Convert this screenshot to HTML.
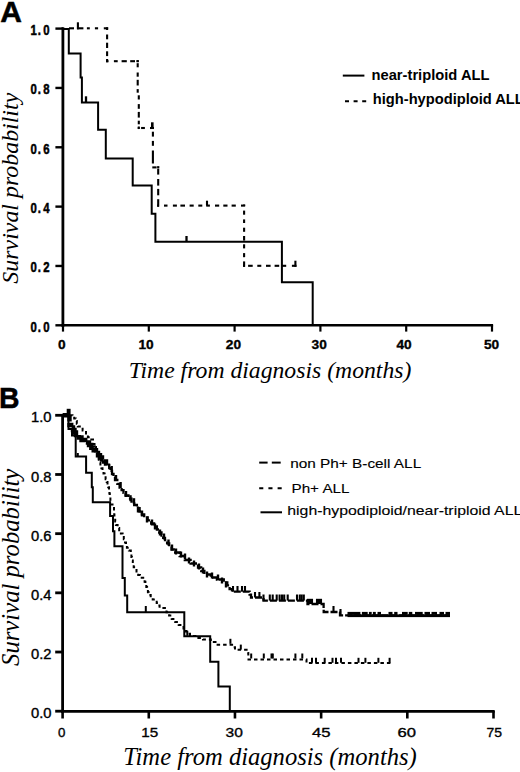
<!DOCTYPE html>
<html><head><meta charset="utf-8"><style>
html,body{margin:0;padding:0;background:#fff;}
svg{display:block;}
</style></head><body>
<svg width="520" height="772" viewBox="0 0 520 772">
<rect width="520" height="772" fill="#fff"/>
<text x="0.3" y="21.6" font-family="'Liberation Sans', sans-serif" font-size="30" font-weight="bold" font-style="normal" text-anchor="start" stroke="#000" stroke-width="0.5">A</text>
<line x1="62.9" y1="27.3" x2="62.9" y2="326.7" stroke="#000" stroke-width="2.8" stroke-linecap="butt"/>
<line x1="61.6" y1="325.3" x2="493.1" y2="325.3" stroke="#000" stroke-width="2.6" stroke-linecap="butt"/>
<line x1="55.4" y1="325.3" x2="63" y2="325.3" stroke="#000" stroke-width="2.4" stroke-linecap="butt"/>
<text x="0" y="0" font-family="'Liberation Sans', sans-serif" font-size="14.2" font-weight="bold" font-style="normal" text-anchor="middle" stroke="#000" stroke-width="0.5" transform="translate(33.6,331.7) scale(0.8,1)">0</text>
<text x="0" y="0" font-family="'Liberation Sans', sans-serif" font-size="14.2" font-weight="bold" font-style="normal" text-anchor="middle" stroke="#000" stroke-width="0.5" transform="translate(39.4,331.7) scale(0.8,1)">.</text>
<text x="0" y="0" font-family="'Liberation Sans', sans-serif" font-size="14.2" font-weight="bold" font-style="normal" text-anchor="middle" stroke="#000" stroke-width="0.5" transform="translate(46.3,331.7) scale(0.8,1)">0</text>
<line x1="55.4" y1="265.96" x2="63" y2="265.96" stroke="#000" stroke-width="2.4" stroke-linecap="butt"/>
<text x="0" y="0" font-family="'Liberation Sans', sans-serif" font-size="14.2" font-weight="bold" font-style="normal" text-anchor="middle" stroke="#000" stroke-width="0.5" transform="translate(33.6,272.4) scale(0.8,1)">0</text>
<text x="0" y="0" font-family="'Liberation Sans', sans-serif" font-size="14.2" font-weight="bold" font-style="normal" text-anchor="middle" stroke="#000" stroke-width="0.5" transform="translate(39.4,272.4) scale(0.8,1)">.</text>
<text x="0" y="0" font-family="'Liberation Sans', sans-serif" font-size="14.2" font-weight="bold" font-style="normal" text-anchor="middle" stroke="#000" stroke-width="0.5" transform="translate(46.3,272.4) scale(0.8,1)">2</text>
<line x1="55.4" y1="206.62" x2="63" y2="206.62" stroke="#000" stroke-width="2.4" stroke-linecap="butt"/>
<text x="0" y="0" font-family="'Liberation Sans', sans-serif" font-size="14.2" font-weight="bold" font-style="normal" text-anchor="middle" stroke="#000" stroke-width="0.5" transform="translate(33.6,213.0) scale(0.8,1)">0</text>
<text x="0" y="0" font-family="'Liberation Sans', sans-serif" font-size="14.2" font-weight="bold" font-style="normal" text-anchor="middle" stroke="#000" stroke-width="0.5" transform="translate(39.4,213.0) scale(0.8,1)">.</text>
<text x="0" y="0" font-family="'Liberation Sans', sans-serif" font-size="14.2" font-weight="bold" font-style="normal" text-anchor="middle" stroke="#000" stroke-width="0.5" transform="translate(46.3,213.0) scale(0.8,1)">4</text>
<line x1="55.4" y1="147.28" x2="63" y2="147.28" stroke="#000" stroke-width="2.4" stroke-linecap="butt"/>
<text x="0" y="0" font-family="'Liberation Sans', sans-serif" font-size="14.2" font-weight="bold" font-style="normal" text-anchor="middle" stroke="#000" stroke-width="0.5" transform="translate(33.6,153.7) scale(0.8,1)">0</text>
<text x="0" y="0" font-family="'Liberation Sans', sans-serif" font-size="14.2" font-weight="bold" font-style="normal" text-anchor="middle" stroke="#000" stroke-width="0.5" transform="translate(39.4,153.7) scale(0.8,1)">.</text>
<text x="0" y="0" font-family="'Liberation Sans', sans-serif" font-size="14.2" font-weight="bold" font-style="normal" text-anchor="middle" stroke="#000" stroke-width="0.5" transform="translate(46.3,153.7) scale(0.8,1)">6</text>
<line x1="55.4" y1="87.94" x2="63" y2="87.94" stroke="#000" stroke-width="2.4" stroke-linecap="butt"/>
<text x="0" y="0" font-family="'Liberation Sans', sans-serif" font-size="14.2" font-weight="bold" font-style="normal" text-anchor="middle" stroke="#000" stroke-width="0.5" transform="translate(33.6,94.3) scale(0.8,1)">0</text>
<text x="0" y="0" font-family="'Liberation Sans', sans-serif" font-size="14.2" font-weight="bold" font-style="normal" text-anchor="middle" stroke="#000" stroke-width="0.5" transform="translate(39.4,94.3) scale(0.8,1)">.</text>
<text x="0" y="0" font-family="'Liberation Sans', sans-serif" font-size="14.2" font-weight="bold" font-style="normal" text-anchor="middle" stroke="#000" stroke-width="0.5" transform="translate(46.3,94.3) scale(0.8,1)">8</text>
<line x1="55.4" y1="28.6" x2="63" y2="28.6" stroke="#000" stroke-width="2.4" stroke-linecap="butt"/>
<text x="0" y="0" font-family="'Liberation Sans', sans-serif" font-size="14.2" font-weight="bold" font-style="normal" text-anchor="middle" stroke="#000" stroke-width="0.5" transform="translate(33.6,35.0) scale(0.8,1)">1</text>
<text x="0" y="0" font-family="'Liberation Sans', sans-serif" font-size="14.2" font-weight="bold" font-style="normal" text-anchor="middle" stroke="#000" stroke-width="0.5" transform="translate(39.4,35.0) scale(0.8,1)">.</text>
<text x="0" y="0" font-family="'Liberation Sans', sans-serif" font-size="14.2" font-weight="bold" font-style="normal" text-anchor="middle" stroke="#000" stroke-width="0.5" transform="translate(46.3,35.0) scale(0.8,1)">0</text>
<line x1="63" y1="325" x2="63" y2="331.6" stroke="#000" stroke-width="2.2" stroke-linecap="butt"/>
<text x="61.8" y="349.4" font-family="'Liberation Sans', sans-serif" font-size="13.7" font-weight="bold" font-style="normal" text-anchor="middle" stroke="#000" stroke-width="0.35">0</text>
<line x1="148.8" y1="325" x2="148.8" y2="331.6" stroke="#000" stroke-width="2.2" stroke-linecap="butt"/>
<text x="146.10000000000002" y="349.4" font-family="'Liberation Sans', sans-serif" font-size="13.7" font-weight="bold" font-style="normal" text-anchor="middle" stroke="#000" stroke-width="0.35">10</text>
<line x1="234.6" y1="325" x2="234.6" y2="331.6" stroke="#000" stroke-width="2.2" stroke-linecap="butt"/>
<text x="233.4" y="349.4" font-family="'Liberation Sans', sans-serif" font-size="13.7" font-weight="bold" font-style="normal" text-anchor="middle" stroke="#000" stroke-width="0.35">20</text>
<line x1="320.4" y1="325" x2="320.4" y2="331.6" stroke="#000" stroke-width="2.2" stroke-linecap="butt"/>
<text x="319.2" y="349.4" font-family="'Liberation Sans', sans-serif" font-size="13.7" font-weight="bold" font-style="normal" text-anchor="middle" stroke="#000" stroke-width="0.35">30</text>
<line x1="406.2" y1="325" x2="406.2" y2="331.6" stroke="#000" stroke-width="2.2" stroke-linecap="butt"/>
<text x="404.0" y="349.4" font-family="'Liberation Sans', sans-serif" font-size="13.7" font-weight="bold" font-style="normal" text-anchor="middle" stroke="#000" stroke-width="0.35">40</text>
<line x1="492" y1="325" x2="492" y2="331.6" stroke="#000" stroke-width="2.2" stroke-linecap="butt"/>
<text x="491.5" y="349.4" font-family="'Liberation Sans', sans-serif" font-size="13.7" font-weight="bold" font-style="normal" text-anchor="middle" stroke="#000" stroke-width="0.35">50</text>
<text x="270" y="378.2" font-family="'Liberation Serif', serif" font-size="23.7" font-weight="normal" font-style="italic" text-anchor="middle" >Time from diagnosis (months)</text>
<text x="0" y="0" font-family="'Liberation Serif', serif" font-size="23.9" font-weight="normal" font-style="italic" text-anchor="middle" transform="translate(17.5,188.2) rotate(-90)">Survival probability</text>
<line x1="342.8" y1="75.6" x2="364.4" y2="75.6" stroke="#000" stroke-width="2" stroke-linecap="butt"/>
<text x="371.5" y="79.7" font-family="'Liberation Sans', sans-serif" font-size="14.1" font-weight="bold" font-style="normal" text-anchor="start" textLength="118" lengthAdjust="spacingAndGlyphs">near-triploid ALL</text>
<path d="M345,101.2 H366.2" fill="none" stroke="#000" stroke-width="2" stroke-linejoin="miter" stroke-linecap="butt" stroke-dasharray="4 4.6" stroke-dashoffset="0"/>
<text x="372.8" y="104.0" font-family="'Liberation Sans', sans-serif" font-size="14.1" font-weight="bold" font-style="normal" text-anchor="start" textLength="151" lengthAdjust="spacingAndGlyphs">high-hypodiploid ALL</text>
<path d="M63,29 H68.8 V53.5 H80.6 V77.5 H81.9 V102.5 H98.1 V129.8 H105.8 V158.5 H132.7 V185.4 H151.7 V213.7 H155.4 V241.7 H281.9 V282.3 H312.7 V325" fill="none" stroke="#000" stroke-width="2" stroke-linejoin="miter" stroke-linecap="butt"/>
<line x1="86" y1="96.3" x2="86" y2="102.5" stroke="#000" stroke-width="2.3" stroke-linecap="butt"/>
<line x1="186.5" y1="236" x2="186.5" y2="241.5" stroke="#000" stroke-width="2.3" stroke-linecap="butt"/>
<line x1="69" y1="28.3" x2="74" y2="28.3" stroke="#000" stroke-width="2.1" stroke-linecap="butt"/>
<line x1="77" y1="28.3" x2="83.4" y2="28.3" stroke="#000" stroke-width="2.1" stroke-linecap="butt"/>
<line x1="86.9" y1="28.3" x2="89.8" y2="28.3" stroke="#000" stroke-width="2.1" stroke-linecap="butt"/>
<line x1="94.9" y1="28.3" x2="98.1" y2="28.3" stroke="#000" stroke-width="2.1" stroke-linecap="butt"/>
<line x1="103.8" y1="28.3" x2="108.15" y2="28.3" stroke="#000" stroke-width="2.1" stroke-linecap="butt"/>
<line x1="77.9" y1="22.3" x2="77.9" y2="29.3" stroke="#000" stroke-width="2.1" stroke-linecap="butt"/>
<line x1="107.1" y1="27.25" x2="107.1" y2="30" stroke="#000" stroke-width="2.1" stroke-linecap="butt"/>
<line x1="107.1" y1="34.5" x2="107.1" y2="39.3" stroke="#000" stroke-width="2.1" stroke-linecap="butt"/>
<line x1="107.1" y1="42.7" x2="107.1" y2="48" stroke="#000" stroke-width="2.1" stroke-linecap="butt"/>
<line x1="107.1" y1="51.3" x2="107.1" y2="56.1" stroke="#000" stroke-width="2.1" stroke-linecap="butt"/>
<line x1="107.1" y1="59" x2="107.1" y2="62.25" stroke="#000" stroke-width="2.1" stroke-linecap="butt"/>
<line x1="106.05" y1="61.2" x2="108.5" y2="61.2" stroke="#000" stroke-width="2.1" stroke-linecap="butt"/>
<line x1="113.9" y1="61.2" x2="117.7" y2="61.2" stroke="#000" stroke-width="2.1" stroke-linecap="butt"/>
<line x1="121.6" y1="61.2" x2="126.8" y2="61.2" stroke="#000" stroke-width="2.1" stroke-linecap="butt"/>
<line x1="130.2" y1="61.2" x2="135" y2="61.2" stroke="#000" stroke-width="2.1" stroke-linecap="butt"/>
<line x1="136.5" y1="61.2" x2="138.75" y2="61.2" stroke="#000" stroke-width="2.1" stroke-linecap="butt"/>
<line x1="137.7" y1="60.15" x2="137.7" y2="62" stroke="#000" stroke-width="2.1" stroke-linecap="butt"/>
<line x1="137.7" y1="63.2" x2="137.7" y2="67.3" stroke="#000" stroke-width="2.1" stroke-linecap="butt"/>
<line x1="137.7" y1="72.5" x2="137.7" y2="76.7" stroke="#000" stroke-width="2.1" stroke-linecap="butt"/>
<line x1="137.7" y1="79.8" x2="137.7" y2="85.5" stroke="#000" stroke-width="2.1" stroke-linecap="butt"/>
<line x1="137.7" y1="89.1" x2="137.7" y2="92.7" stroke="#000" stroke-width="2.1" stroke-linecap="butt"/>
<line x1="138.8" y1="95.3" x2="138.8" y2="99.5" stroke="#000" stroke-width="2.1" stroke-linecap="butt"/>
<line x1="138.8" y1="104.1" x2="138.8" y2="108.8" stroke="#000" stroke-width="2.1" stroke-linecap="butt"/>
<line x1="138.8" y1="111.9" x2="138.8" y2="117.6" stroke="#000" stroke-width="2.1" stroke-linecap="butt"/>
<line x1="138.8" y1="120.7" x2="138.8" y2="124.3" stroke="#000" stroke-width="2.1" stroke-linecap="butt"/>
<line x1="138.8" y1="126.5" x2="138.8" y2="129" stroke="#000" stroke-width="2.1" stroke-linecap="butt"/>
<line x1="137.75" y1="128" x2="139.5" y2="128" stroke="#000" stroke-width="2.1" stroke-linecap="butt"/>
<line x1="141.1" y1="128" x2="144.9" y2="128" stroke="#000" stroke-width="2.1" stroke-linecap="butt"/>
<line x1="150" y1="128" x2="153.95" y2="128" stroke="#000" stroke-width="2.1" stroke-linecap="butt"/>
<rect x="151" y="122.3" width="2.6" height="6" fill="#000"/>
<line x1="152.9" y1="127" x2="152.9" y2="129" stroke="#000" stroke-width="2.1" stroke-linecap="butt"/>
<line x1="152.9" y1="131.7" x2="152.9" y2="136.6" stroke="#000" stroke-width="2.1" stroke-linecap="butt"/>
<line x1="152.9" y1="140.9" x2="152.9" y2="145.8" stroke="#000" stroke-width="2.1" stroke-linecap="butt"/>
<line x1="152.9" y1="150.5" x2="152.9" y2="163.5" stroke="#000" stroke-width="2.1" stroke-linecap="butt"/>
<line x1="152.3" y1="167.4" x2="156.6" y2="167.4" stroke="#000" stroke-width="2.1" stroke-linecap="butt"/>
<line x1="157.2" y1="167.4" x2="159.25" y2="167.4" stroke="#000" stroke-width="2.1" stroke-linecap="butt"/>
<line x1="158.2" y1="166.35" x2="158.2" y2="167.5" stroke="#000" stroke-width="2.1" stroke-linecap="butt"/>
<line x1="158.2" y1="168.8" x2="158.2" y2="174.6" stroke="#000" stroke-width="2.1" stroke-linecap="butt"/>
<line x1="158.2" y1="179" x2="158.2" y2="185.6" stroke="#000" stroke-width="2.1" stroke-linecap="butt"/>
<line x1="158.2" y1="188.9" x2="158.2" y2="195.3" stroke="#000" stroke-width="2.1" stroke-linecap="butt"/>
<line x1="158.2" y1="199.2" x2="158.2" y2="206.65" stroke="#000" stroke-width="2.1" stroke-linecap="butt"/>
<line x1="157.15" y1="205.6" x2="159" y2="205.6" stroke="#000" stroke-width="2.1" stroke-linecap="butt"/>
<line x1="164" y1="205.6" x2="167.5" y2="205.6" stroke="#000" stroke-width="2.1" stroke-linecap="butt"/>
<line x1="172.9" y1="205.6" x2="176.9" y2="205.6" stroke="#000" stroke-width="2.1" stroke-linecap="butt"/>
<line x1="180.4" y1="205.6" x2="185" y2="205.6" stroke="#000" stroke-width="2.1" stroke-linecap="butt"/>
<line x1="189.6" y1="205.6" x2="193.7" y2="205.6" stroke="#000" stroke-width="2.1" stroke-linecap="butt"/>
<line x1="198.3" y1="205.6" x2="202.3" y2="205.6" stroke="#000" stroke-width="2.1" stroke-linecap="butt"/>
<line x1="206.2" y1="205.6" x2="209.9" y2="205.6" stroke="#000" stroke-width="2.1" stroke-linecap="butt"/>
<line x1="215" y1="205.6" x2="219.2" y2="205.6" stroke="#000" stroke-width="2.1" stroke-linecap="butt"/>
<line x1="223.3" y1="205.6" x2="227.5" y2="205.6" stroke="#000" stroke-width="2.1" stroke-linecap="butt"/>
<line x1="231.6" y1="205.6" x2="235.8" y2="205.6" stroke="#000" stroke-width="2.1" stroke-linecap="butt"/>
<line x1="241" y1="205.6" x2="245.15" y2="205.6" stroke="#000" stroke-width="2.1" stroke-linecap="butt"/>
<line x1="207" y1="200.7" x2="207" y2="205.6" stroke="#000" stroke-width="2.1" stroke-linecap="butt"/>
<line x1="244.1" y1="204.55" x2="244.1" y2="206" stroke="#000" stroke-width="2.1" stroke-linecap="butt"/>
<line x1="244.1" y1="210.6" x2="244.1" y2="214.7" stroke="#000" stroke-width="2.1" stroke-linecap="butt"/>
<line x1="244.1" y1="219.4" x2="244.1" y2="223" stroke="#000" stroke-width="2.1" stroke-linecap="butt"/>
<line x1="244.1" y1="227.7" x2="244.1" y2="231.8" stroke="#000" stroke-width="2.1" stroke-linecap="butt"/>
<line x1="244.1" y1="236" x2="244.1" y2="240.6" stroke="#000" stroke-width="2.1" stroke-linecap="butt"/>
<line x1="244.1" y1="244.3" x2="244.1" y2="248.4" stroke="#000" stroke-width="2.1" stroke-linecap="butt"/>
<line x1="244.1" y1="253.1" x2="244.1" y2="257.2" stroke="#000" stroke-width="2.1" stroke-linecap="butt"/>
<line x1="244.1" y1="261.4" x2="244.1" y2="266.85" stroke="#000" stroke-width="2.1" stroke-linecap="butt"/>
<line x1="243.05" y1="265.8" x2="245" y2="265.8" stroke="#000" stroke-width="2.1" stroke-linecap="butt"/>
<line x1="248.1" y1="265.8" x2="252.7" y2="265.8" stroke="#000" stroke-width="2.1" stroke-linecap="butt"/>
<line x1="257.3" y1="265.8" x2="261.3" y2="265.8" stroke="#000" stroke-width="2.1" stroke-linecap="butt"/>
<line x1="266" y1="265.8" x2="270.6" y2="265.8" stroke="#000" stroke-width="2.1" stroke-linecap="butt"/>
<line x1="274.6" y1="265.8" x2="279.2" y2="265.8" stroke="#000" stroke-width="2.1" stroke-linecap="butt"/>
<line x1="282.1" y1="265.8" x2="286.2" y2="265.8" stroke="#000" stroke-width="2.1" stroke-linecap="butt"/>
<line x1="291.9" y1="265.8" x2="296.5" y2="265.8" stroke="#000" stroke-width="2.1" stroke-linecap="butt"/>
<line x1="295.4" y1="260.7" x2="295.4" y2="266.85" stroke="#000" stroke-width="2.1" stroke-linecap="butt"/>
<text x="-0.9" y="407.8" font-family="'Liberation Sans', sans-serif" font-size="30" font-weight="bold" font-style="normal" text-anchor="start" stroke="#000" stroke-width="0.5" textLength="20.5" lengthAdjust="spacingAndGlyphs">B</text>
<line x1="62.6" y1="414" x2="62.6" y2="712.5" stroke="#000" stroke-width="2.8" stroke-linecap="butt"/>
<line x1="61.2" y1="711.3" x2="494.7" y2="711.3" stroke="#000" stroke-width="2.8" stroke-linecap="butt"/>
<line x1="55.2" y1="711.2" x2="62.6" y2="711.2" stroke="#000" stroke-width="2.8" stroke-linecap="butt"/>
<text x="51.5" y="718.3000000000001" font-family="'Liberation Sans', sans-serif" font-size="13.8" font-weight="normal" font-style="normal" text-anchor="end" stroke="#000" stroke-width="0.35" textLength="20.5" lengthAdjust="spacingAndGlyphs">0.0</text>
<line x1="55.2" y1="652.02" x2="62.6" y2="652.02" stroke="#000" stroke-width="2.8" stroke-linecap="butt"/>
<text x="51.5" y="659.1200000000001" font-family="'Liberation Sans', sans-serif" font-size="13.8" font-weight="normal" font-style="normal" text-anchor="end" stroke="#000" stroke-width="0.35" textLength="20.5" lengthAdjust="spacingAndGlyphs">0.2</text>
<line x1="55.2" y1="592.84" x2="62.6" y2="592.84" stroke="#000" stroke-width="2.8" stroke-linecap="butt"/>
<text x="51.5" y="599.94" font-family="'Liberation Sans', sans-serif" font-size="13.8" font-weight="normal" font-style="normal" text-anchor="end" stroke="#000" stroke-width="0.35" textLength="20.5" lengthAdjust="spacingAndGlyphs">0.4</text>
<line x1="55.2" y1="533.66" x2="62.6" y2="533.66" stroke="#000" stroke-width="2.8" stroke-linecap="butt"/>
<text x="51.5" y="540.7600000000001" font-family="'Liberation Sans', sans-serif" font-size="13.8" font-weight="normal" font-style="normal" text-anchor="end" stroke="#000" stroke-width="0.35" textLength="20.5" lengthAdjust="spacingAndGlyphs">0.6</text>
<line x1="55.2" y1="474.48" x2="62.6" y2="474.48" stroke="#000" stroke-width="2.8" stroke-linecap="butt"/>
<text x="51.5" y="481.58000000000004" font-family="'Liberation Sans', sans-serif" font-size="13.8" font-weight="normal" font-style="normal" text-anchor="end" stroke="#000" stroke-width="0.35" textLength="20.5" lengthAdjust="spacingAndGlyphs">0.8</text>
<line x1="55.2" y1="415.3" x2="62.6" y2="415.3" stroke="#000" stroke-width="2.8" stroke-linecap="butt"/>
<text x="51.5" y="422.4000000000001" font-family="'Liberation Sans', sans-serif" font-size="13.8" font-weight="normal" font-style="normal" text-anchor="end" stroke="#000" stroke-width="0.35" textLength="20.5" lengthAdjust="spacingAndGlyphs">1.0</text>
<line x1="62.6" y1="711" x2="62.6" y2="718.5" stroke="#000" stroke-width="2.6" stroke-linecap="butt"/>
<text x="61.75" y="736.6" font-family="'Liberation Sans', sans-serif" font-size="13.3" font-weight="normal" font-style="normal" text-anchor="middle" stroke="#000" stroke-width="0.35">0</text>
<line x1="148.78" y1="711" x2="148.78" y2="718.5" stroke="#000" stroke-width="2.6" stroke-linecap="butt"/>
<text x="149.75" y="736.6" font-family="'Liberation Sans', sans-serif" font-size="13.3" font-weight="normal" font-style="normal" text-anchor="middle" stroke="#000" stroke-width="0.35" textLength="16.9" lengthAdjust="spacingAndGlyphs">15</text>
<line x1="234.96" y1="711" x2="234.96" y2="718.5" stroke="#000" stroke-width="2.6" stroke-linecap="butt"/>
<text x="234.25" y="736.6" font-family="'Liberation Sans', sans-serif" font-size="13.3" font-weight="normal" font-style="normal" text-anchor="middle" stroke="#000" stroke-width="0.35" textLength="17.3" lengthAdjust="spacingAndGlyphs">30</text>
<line x1="321.14" y1="711" x2="321.14" y2="718.5" stroke="#000" stroke-width="2.6" stroke-linecap="butt"/>
<text x="321.35" y="736.6" font-family="'Liberation Sans', sans-serif" font-size="13.3" font-weight="normal" font-style="normal" text-anchor="middle" stroke="#000" stroke-width="0.35" textLength="18.5" lengthAdjust="spacingAndGlyphs">45</text>
<line x1="407.32" y1="711" x2="407.32" y2="718.5" stroke="#000" stroke-width="2.6" stroke-linecap="butt"/>
<text x="406.75" y="736.6" font-family="'Liberation Sans', sans-serif" font-size="13.3" font-weight="normal" font-style="normal" text-anchor="middle" stroke="#000" stroke-width="0.35" textLength="18.5" lengthAdjust="spacingAndGlyphs">60</text>
<line x1="493.5" y1="711" x2="493.5" y2="718.5" stroke="#000" stroke-width="2.6" stroke-linecap="butt"/>
<text x="494.35" y="736.6" font-family="'Liberation Sans', sans-serif" font-size="13.3" font-weight="normal" font-style="normal" text-anchor="middle" stroke="#000" stroke-width="0.35" textLength="15.5" lengthAdjust="spacingAndGlyphs">75</text>
<text x="270" y="764.5" font-family="'Liberation Serif', serif" font-size="24.6" font-weight="normal" font-style="italic" text-anchor="middle" >Time from diagnosis (months)</text>
<text x="0" y="0" font-family="'Liberation Serif', serif" font-size="24.7" font-weight="normal" font-style="italic" text-anchor="middle" transform="translate(18.5,567.3) rotate(-90)">Survival probability</text>
<line x1="259.2" y1="462.6" x2="267.6" y2="462.6" stroke="#000" stroke-width="2" stroke-linecap="butt"/>
<line x1="271.8" y1="462.6" x2="280.7" y2="462.6" stroke="#000" stroke-width="2" stroke-linecap="butt"/>
<path d="M259.2,488.3 H282.4" fill="none" stroke="#000" stroke-width="2" stroke-linejoin="miter" stroke-linecap="butt" stroke-dasharray="4.1 5.1" stroke-dashoffset="0"/>
<line x1="260.5" y1="512.3" x2="282" y2="512.3" stroke="#000" stroke-width="2" stroke-linecap="butt"/>
<text x="290.2" y="467.8" font-family="'Liberation Sans', sans-serif" font-size="12.8" font-weight="normal" font-style="normal" text-anchor="start" stroke="#000" stroke-width="0.12" textLength="131" lengthAdjust="spacingAndGlyphs">non Ph+ B-cell ALL</text>
<text x="291.5" y="492.9" font-family="'Liberation Sans', sans-serif" font-size="12.8" font-weight="normal" font-style="normal" text-anchor="start" stroke="#000" stroke-width="0.12" textLength="58" lengthAdjust="spacingAndGlyphs">Ph+ ALL</text>
<text x="287.3" y="515.4" font-family="'Liberation Sans', sans-serif" font-size="12.8" font-weight="normal" font-style="normal" text-anchor="start" stroke="#000" stroke-width="0.12" textLength="235" lengthAdjust="spacingAndGlyphs">high-hypodiploid/near-triploid ALL</text>
<path d="M62.6,415.3 H69.5 V415.8 H69.5 V425.0 H71.2 V427.5 H73.0 V430.0 H74.5 V432.5 H76.0 V435.0 H78.8 V437.5 H81.5 V440.0 H85.2 V442.5 H89.0 V445.0 H91.3 V447.7 H93.7 V450.3 H96.0 V453.0 H98.0 V455.2 H100.0 V457.5 H102.0 V459.5 H104.0 V461.5 H106.0 V463.5 H108.0 V465.5" fill="none" stroke="#000" stroke-width="4.4" stroke-linejoin="miter" stroke-linecap="butt" stroke-dasharray="6 1.2" stroke-dashoffset="0"/>
<rect x="66.7" y="408.8" width="3.9" height="6.5" fill="#000"/>
<path d="M108.0,465.5 H109.2 V468.2 H110.5 V471.0 H112.0 V474.0 H113.5 V477.0 H115.0 V480.0 H117.3 V483.8 H119.6 V487.5 H121.6 V490.2 H123.5 V492.8 H125.5 V495.5 H128.5 V498.6 H131.5 V501.7 H134.2 V505.0 H136.9 V508.2 H139.6 V511.5 H141.9 V514.4 H144.2 V517.3 H147.7 V520.4 H151.2 V523.5 H154.1 V526.5 H156.9 V529.5 H159.2 V532.5 H161.5 V535.5 H163.2 V537.9 H165.0 V540.2 H167.1 V543.4 H169.2 V546.5 H171.5 V549.5 H173.8 V552.5 H179.6 V556.0 H184.8 V560.0 H190.6 V563.5 H198.0 V567.5 H201.2 V571.0 H204.4 V574.5 H210.8 V577.5 H216.9 V579.5 H223.8 V582.5 H227.3 V585.4 H229.6 V589.2 H232.0 V591.7 H248.1 V591.7 H249.6 V594.6 H251.0 V597.5 H263.0 V597.5 H263.5 V600.6 H307.0 V600.6 H307.5 V604.0 H323.5 V604.0 H323.6 V606.7 H323.6 V609.3 H323.7 V612.0 H339.5 V612.0 H340.0 V615.4 H450.0 V615.4" fill="none" stroke="#000" stroke-width="2.3" stroke-linejoin="miter" stroke-linecap="butt" stroke-dasharray="7 2" stroke-dashoffset="0"/>
<line x1="111.7" y1="466" x2="111.7" y2="472" stroke="#000" stroke-width="2.4" stroke-linecap="butt"/>
<line x1="116" y1="475" x2="116" y2="481" stroke="#000" stroke-width="2.4" stroke-linecap="butt"/>
<line x1="120.6" y1="482" x2="120.6" y2="488" stroke="#000" stroke-width="2.4" stroke-linecap="butt"/>
<line x1="126" y1="491" x2="126" y2="497" stroke="#000" stroke-width="2.4" stroke-linecap="butt"/>
<line x1="130.5" y1="495.2" x2="130.5" y2="501.2" stroke="#000" stroke-width="2.4" stroke-linecap="butt"/>
<line x1="134" y1="498.2" x2="134" y2="504.2" stroke="#000" stroke-width="2.4" stroke-linecap="butt"/>
<line x1="138" y1="506.5" x2="138" y2="512.5" stroke="#000" stroke-width="2.4" stroke-linecap="butt"/>
<line x1="142" y1="510.5" x2="142" y2="516.5" stroke="#000" stroke-width="2.4" stroke-linecap="butt"/>
<line x1="147" y1="516.5" x2="147" y2="522.5" stroke="#000" stroke-width="2.4" stroke-linecap="butt"/>
<line x1="152" y1="519.5" x2="152" y2="525.5" stroke="#000" stroke-width="2.4" stroke-linecap="butt"/>
<line x1="155" y1="523.5" x2="155" y2="529.5" stroke="#000" stroke-width="2.4" stroke-linecap="butt"/>
<line x1="160" y1="529.5" x2="160" y2="535.5" stroke="#000" stroke-width="2.4" stroke-linecap="butt"/>
<line x1="164" y1="533.5" x2="164" y2="539.5" stroke="#000" stroke-width="2.4" stroke-linecap="butt"/>
<line x1="168.5" y1="539.5" x2="168.5" y2="545.5" stroke="#000" stroke-width="2.4" stroke-linecap="butt"/>
<line x1="172" y1="544.5" x2="172" y2="550.5" stroke="#000" stroke-width="2.4" stroke-linecap="butt"/>
<line x1="176" y1="548.5" x2="176" y2="554.5" stroke="#000" stroke-width="2.4" stroke-linecap="butt"/>
<line x1="181" y1="551.5" x2="181" y2="557.5" stroke="#000" stroke-width="2.4" stroke-linecap="butt"/>
<line x1="185" y1="553.5" x2="185" y2="559.5" stroke="#000" stroke-width="2.4" stroke-linecap="butt"/>
<line x1="189" y1="557.5" x2="189" y2="563.5" stroke="#000" stroke-width="2.4" stroke-linecap="butt"/>
<line x1="194" y1="560.5" x2="194" y2="566.5" stroke="#000" stroke-width="2.4" stroke-linecap="butt"/>
<line x1="199" y1="563.5" x2="199" y2="569.5" stroke="#000" stroke-width="2.4" stroke-linecap="butt"/>
<line x1="203" y1="567.5" x2="203" y2="573.5" stroke="#000" stroke-width="2.4" stroke-linecap="butt"/>
<line x1="207" y1="571.5" x2="207" y2="577.5" stroke="#000" stroke-width="2.4" stroke-linecap="butt"/>
<line x1="212" y1="572.5" x2="212" y2="578.5" stroke="#000" stroke-width="2.4" stroke-linecap="butt"/>
<line x1="218" y1="574.5" x2="218" y2="580.5" stroke="#000" stroke-width="2.4" stroke-linecap="butt"/>
<line x1="222" y1="577.5" x2="222" y2="583.5" stroke="#000" stroke-width="2.4" stroke-linecap="butt"/>
<line x1="226" y1="581.5" x2="226" y2="587.5" stroke="#000" stroke-width="2.4" stroke-linecap="butt"/>
<line x1="233" y1="586" x2="233" y2="591.7" stroke="#000" stroke-width="2.1" stroke-linecap="butt"/>
<line x1="237.5" y1="586" x2="237.5" y2="591.7" stroke="#000" stroke-width="2.1" stroke-linecap="butt"/>
<line x1="242" y1="586" x2="242" y2="591.7" stroke="#000" stroke-width="2.1" stroke-linecap="butt"/>
<line x1="245" y1="586" x2="245" y2="591.7" stroke="#000" stroke-width="2.1" stroke-linecap="butt"/>
<line x1="255" y1="592" x2="255" y2="597.5" stroke="#000" stroke-width="2.1" stroke-linecap="butt"/>
<line x1="259.4" y1="592" x2="259.4" y2="597.5" stroke="#000" stroke-width="2.1" stroke-linecap="butt"/>
<line x1="263.5" y1="594.5" x2="263.5" y2="600.6" stroke="#000" stroke-width="2.1" stroke-linecap="butt"/>
<line x1="269.8" y1="594.5" x2="269.8" y2="600.6" stroke="#000" stroke-width="2.1" stroke-linecap="butt"/>
<line x1="272.7" y1="594.5" x2="272.7" y2="600.6" stroke="#000" stroke-width="2.1" stroke-linecap="butt"/>
<line x1="276.7" y1="594.5" x2="276.7" y2="600.6" stroke="#000" stroke-width="2.1" stroke-linecap="butt"/>
<line x1="279.6" y1="594.5" x2="279.6" y2="600.6" stroke="#000" stroke-width="2.1" stroke-linecap="butt"/>
<line x1="282" y1="594.5" x2="282" y2="600.6" stroke="#000" stroke-width="2.1" stroke-linecap="butt"/>
<line x1="284.2" y1="594.5" x2="284.2" y2="600.6" stroke="#000" stroke-width="2.1" stroke-linecap="butt"/>
<line x1="287.7" y1="594.5" x2="287.7" y2="600.6" stroke="#000" stroke-width="2.1" stroke-linecap="butt"/>
<line x1="297" y1="594.5" x2="297" y2="600.6" stroke="#000" stroke-width="2.1" stroke-linecap="butt"/>
<line x1="299.8" y1="594.5" x2="299.8" y2="600.6" stroke="#000" stroke-width="2.1" stroke-linecap="butt"/>
<line x1="301.7" y1="594.5" x2="301.7" y2="600.6" stroke="#000" stroke-width="2.1" stroke-linecap="butt"/>
<line x1="303.8" y1="594.5" x2="303.8" y2="600.6" stroke="#000" stroke-width="2.1" stroke-linecap="butt"/>
<line x1="308" y1="598.8" x2="308" y2="604" stroke="#000" stroke-width="2.1" stroke-linecap="butt"/>
<line x1="310" y1="598.8" x2="310" y2="604" stroke="#000" stroke-width="2.1" stroke-linecap="butt"/>
<line x1="312" y1="598.8" x2="312" y2="604" stroke="#000" stroke-width="2.1" stroke-linecap="butt"/>
<line x1="317" y1="598.8" x2="317" y2="604" stroke="#000" stroke-width="2.1" stroke-linecap="butt"/>
<line x1="319" y1="598.8" x2="319" y2="604" stroke="#000" stroke-width="2.1" stroke-linecap="butt"/>
<line x1="321" y1="598.8" x2="321" y2="604" stroke="#000" stroke-width="2.1" stroke-linecap="butt"/>
<line x1="333.5" y1="606" x2="333.5" y2="612" stroke="#000" stroke-width="2.1" stroke-linecap="butt"/>
<line x1="340.5" y1="609" x2="340.5" y2="615" stroke="#000" stroke-width="2.1" stroke-linecap="butt"/>
<rect x="347.5" y="614.4" width="102.5" height="2.7" fill="#000"/>
<rect x="347.5" y="611.9" width="12.9" height="3" fill="#000"/>
<rect x="361.9" y="611.9" width="5.8" height="3" fill="#000"/>
<rect x="368.9" y="611.9" width="2.8" height="3" fill="#000"/>
<rect x="372.9" y="611.9" width="2.9" height="3" fill="#000"/>
<rect x="377.5" y="611.9" width="3.5" height="3" fill="#000"/>
<rect x="388.5" y="611.9" width="4.0" height="3" fill="#000"/>
<rect x="394.2" y="611.9" width="3.3" height="3" fill="#000"/>
<rect x="402" y="611.9" width="5.7" height="3" fill="#000"/>
<rect x="408.8" y="611.9" width="3.5" height="3" fill="#000"/>
<rect x="415" y="611.9" width="7.7" height="3" fill="#000"/>
<rect x="424.5" y="611.9" width="5.5" height="3" fill="#000"/>
<rect x="431.5" y="611.9" width="5.5" height="3" fill="#000"/>
<rect x="439.5" y="611.9" width="4.5" height="3" fill="#000"/>
<rect x="445.5" y="611.9" width="4.5" height="3" fill="#000"/>
<path d="M62.6,415.3 H72.5 V415.8 H74.2 V418.4 H75.8 V421.0 H76.8 V423.8 H77.8 V426.6 H82.6 V430.5 H86.0 V434.8 H87.9 V437.2 H89.8 V439.6 H93.0 V444.0 H94.5 V447.0 H96.0 V450.0 H97.0 V453.5 H98.0 V457.0 H98.8 V459.8 H99.6 V462.7 H100.4 V465.5 H101.4 V468.2 H102.5 V470.8 H103.5 V473.5 H104.6 V476.3 H105.6 V479.2 H106.7 V482.0 H107.5 V484.7 H108.2 V487.3 H109.0 V490.0 H109.4 V493.5 H109.8 V497.0 H110.4 V500.8 H111.0 V504.5 H112.5 V507.9 H114.0 V511.3 H114.2 V514.6 H114.4 V518.0 H115.2 V521.5 H115.9 V525.0 H117.6 V528.1 H119.2 V531.3 H120.9 V533.6 H122.6 V536.0 H123.8 V539.2 H125.0 V542.4 H126.0 V545.0 H126.9 V547.7 H128.9 V550.6 H130.8 V553.5 H131.4 V557.0 H131.9 V560.4 H132.8 V563.8 H133.7 V567.3 H135.1 V569.9 H136.5 V572.5 H138.2 V575.1 H140.0 V577.7 H144.6 V581.7 H145.4 V584.4 H146.3 V587.0 H147.1 V589.7 H147.9 V592.3 H148.7 V595.0 H150.7 V597.3 H152.7 V599.6 H156.7 V603.0 H158.1 V605.5 H159.6 V608.0 H166.5 V612.3 H169.1 V615.6 H171.7 V619.0 H175.2 V622.0 H178.7 V625.0 H181.0 V625.0 H183.5 V628.5 H186.0 V631.5 H188.0 V633.8 H190.0 V636.0 H197.0 V638.0 H203.0 V639.5 H210.3 V639.5 H210.8 V642.1 H215.0 V642.1 H215.5 V644.8 H234.4 V644.8 H234.7 V647.3 H235.0 V649.8 H248.0 V649.8 H248.2 V653.0 H248.3 V656.2 H248.5 V659.4 H306.0 V659.4 H306.5 V663.0 H390.5 V663.0" fill="none" stroke="#000" stroke-width="2.0" stroke-linejoin="miter" stroke-linecap="butt" stroke-dasharray="3.5 3" stroke-dashoffset="0"/>
<line x1="187.3" y1="630.8" x2="187.3" y2="635.8" stroke="#000" stroke-width="2" stroke-linecap="butt"/>
<line x1="230.4" y1="638.8" x2="230.4" y2="643.8" stroke="#000" stroke-width="2" stroke-linecap="butt"/>
<line x1="240.8" y1="644.6" x2="240.8" y2="649.6" stroke="#000" stroke-width="2" stroke-linecap="butt"/>
<line x1="251.2" y1="653.5" x2="251.2" y2="658.5" stroke="#000" stroke-width="2" stroke-linecap="butt"/>
<line x1="263.8" y1="653.5" x2="263.8" y2="658.5" stroke="#000" stroke-width="2" stroke-linecap="butt"/>
<line x1="271.5" y1="653.5" x2="271.5" y2="658.5" stroke="#000" stroke-width="2" stroke-linecap="butt"/>
<line x1="272.8" y1="653.5" x2="272.8" y2="658.5" stroke="#000" stroke-width="2" stroke-linecap="butt"/>
<line x1="295.4" y1="653.5" x2="295.4" y2="658.5" stroke="#000" stroke-width="2" stroke-linecap="butt"/>
<line x1="302.3" y1="653.5" x2="302.3" y2="658.5" stroke="#000" stroke-width="2" stroke-linecap="butt"/>
<line x1="312" y1="657.8" x2="312" y2="662.8" stroke="#000" stroke-width="2" stroke-linecap="butt"/>
<line x1="316" y1="657.8" x2="316" y2="662.8" stroke="#000" stroke-width="2" stroke-linecap="butt"/>
<line x1="324.7" y1="657.8" x2="324.7" y2="662.8" stroke="#000" stroke-width="2" stroke-linecap="butt"/>
<line x1="332.5" y1="657.8" x2="332.5" y2="662.8" stroke="#000" stroke-width="2" stroke-linecap="butt"/>
<line x1="336" y1="657.8" x2="336" y2="662.8" stroke="#000" stroke-width="2" stroke-linecap="butt"/>
<line x1="341" y1="657.8" x2="341" y2="662.8" stroke="#000" stroke-width="2" stroke-linecap="butt"/>
<line x1="358.5" y1="657.8" x2="358.5" y2="662.8" stroke="#000" stroke-width="2" stroke-linecap="butt"/>
<line x1="365.4" y1="657.8" x2="365.4" y2="662.8" stroke="#000" stroke-width="2" stroke-linecap="butt"/>
<line x1="378.4" y1="657.8" x2="378.4" y2="662.8" stroke="#000" stroke-width="2" stroke-linecap="butt"/>
<line x1="389.6" y1="657.8" x2="389.6" y2="662.8" stroke="#000" stroke-width="2" stroke-linecap="butt"/>
<path d="M62.6,415.3 H68.5 V429 H72 V435.5 H75.7 V456.4 H86.1 V472.7 H91.8 V487.2 H92.8 V502.3 H110.1 V516 H113 V531.3 H114.4 V546.3 H122.5 V578 H124.8 V595.4 H127.2 V612.3 H184.3 V636.3 H210.2 V661.8 H218.4 V686.4 H229.8 V711.2" fill="none" stroke="#000" stroke-width="2" stroke-linejoin="miter" stroke-linecap="butt"/>
<line x1="77.8" y1="453" x2="77.8" y2="456.4" stroke="#000" stroke-width="2" stroke-linecap="butt"/>
<line x1="145.8" y1="606" x2="145.8" y2="612.3" stroke="#000" stroke-width="2" stroke-linecap="butt"/>
</svg>
</body></html>
